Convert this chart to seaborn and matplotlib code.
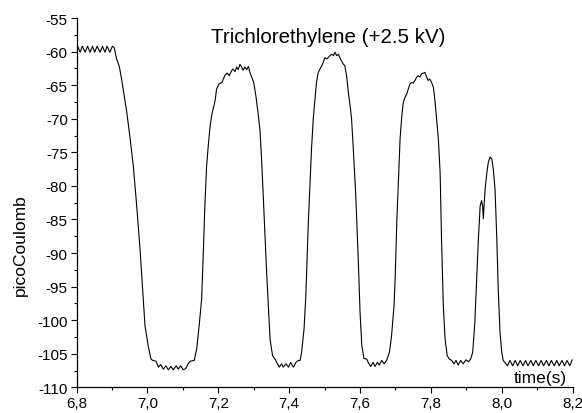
import matplotlib
matplotlib.use("Agg")
import matplotlib.pyplot as plt
import seaborn as sns
import pandas as pd
from matplotlib.ticker import AutoMinorLocator, FixedLocator

# ---- data ----
t_plateau1 = [6.800, 6.803, 6.810, 6.816, 6.824, 6.831, 6.838, 6.845, 6.851, 6.858,
              6.866, 6.873, 6.880, 6.886, 6.894, 6.901, 6.906]
q_plateau1 = [-59.5, -59.2, -60.1, -59.2, -60.1, -59.2, -60.1, -59.2, -60.1, -59.2,
              -60.1, -59.2, -60.1, -59.2, -60.1, -59.2, -59.4]

t_fall1 = [6.913, 6.921, 6.927, 6.934, 6.941, 6.950, 6.960, 6.970, 6.979, 6.993, 7.002, 7.010]
q_fall1 = [-61.1, -62.3, -64.1, -66.5, -68.8, -72.5, -77.0, -83.2, -89.4, -100.8, -103.8, -105.8]

t_bottom1 = [7.015, 7.024, 7.031, 7.037, 7.045, 7.052, 7.059, 7.066, 7.073, 7.081,
             7.087, 7.094, 7.101, 7.108, 7.116, 7.122, 7.132]
q_bottom1 = [-106.0, -106.1, -107.0, -106.6, -107.3, -106.8, -107.4, -106.9, -107.4, -106.8,
             -107.3, -106.8, -107.4, -107.2, -106.4, -106.1, -106.0]

t_peak2 = [7.139, 7.146, 7.153, 7.158, 7.162, 7.167, 7.172, 7.177, 7.182, 7.186,
           7.191, 7.195, 7.202, 7.210, 7.214, 7.219, 7.225, 7.231, 7.238, 7.242,
           7.247, 7.252, 7.256, 7.261, 7.266, 7.270, 7.275, 7.280, 7.285, 7.289,
           7.294, 7.300, 7.306, 7.313, 7.318, 7.322, 7.326, 7.336, 7.346, 7.353, 7.360]
q_peak2 = [-104.3, -100.8, -96.8, -89.4, -83.0, -77.0, -73.8, -71.0, -69.3, -68.4,
           -67.3, -65.6, -64.8, -64.6, -64.1, -63.5, -63.2, -63.6, -62.8, -62.6,
           -63.0, -62.3, -62.7, -61.9, -62.3, -62.8, -62.3, -62.7, -62.2, -63.1,
           -63.8, -64.6, -66.6, -69.5, -72.0, -76.0, -80.5, -92.5, -102.8, -105.3, -105.8]

t_bottom2 = [7.365, 7.372, 7.379, 7.383, 7.391, 7.398, 7.404, 7.412, 7.419, 7.426, 7.431]
q_bottom2 = [-106.3, -107.0, -106.5, -107.0, -106.5, -107.0, -106.3, -107.0, -106.3, -106.0, -106.0]

t_peak3 = [7.435, 7.442, 7.447, 7.454, 7.463, 7.468, 7.473, 7.477, 7.482, 7.487,
           7.492, 7.496, 7.501, 7.506, 7.510, 7.515, 7.520, 7.525, 7.529, 7.534,
           7.539, 7.543, 7.548, 7.553, 7.557, 7.562, 7.567, 7.572, 7.576, 7.581,
           7.588, 7.595, 7.600, 7.605, 7.611]
q_peak3 = [-104.8, -101.3, -96.4, -85.5, -74.5, -70.0, -67.1, -64.6, -63.1, -62.6,
           -62.1, -61.6, -60.9, -61.1, -60.9, -60.6, -60.4, -60.6, -60.1, -60.6,
           -60.4, -60.9, -61.4, -61.9, -62.1, -63.6, -66.1, -68.1, -70.0, -74.5,
           -81.5, -91.0, -98.8, -103.8, -105.7]

t_bottom3 = [7.619, 7.623, 7.630, 7.637, 7.642, 7.649, 7.654, 7.661, 7.668, 7.675, 7.683]
q_bottom3 = [-105.8, -106.3, -106.9, -106.3, -106.9, -106.3, -106.7, -106.0, -106.5, -106.0, -104.8]

t_peak4 = [7.689, 7.696, 7.699, 7.704, 7.713, 7.718, 7.722, 7.727, 7.732, 7.736,
           7.741, 7.746, 7.750, 7.755, 7.760, 7.764, 7.769, 7.774, 7.779, 7.783,
           7.788, 7.792, 7.797, 7.802, 7.807, 7.812, 7.816, 7.821, 7.826, 7.830,
           7.835, 7.840, 7.846, 7.852]
q_peak4 = [-102.3, -97.8, -93.9, -85.0, -73.0, -69.5, -67.6, -66.8, -66.3, -65.6,
           -64.8, -64.6, -64.7, -64.3, -63.8, -63.6, -63.8, -63.3, -63.2, -63.1,
           -63.8, -64.3, -64.1, -64.6, -65.3, -67.6, -70.0, -73.0, -78.0, -87.9,
           -97.8, -102.8, -105.3, -105.8]

t_bottom4 = [7.859, 7.865, 7.871, 7.877, 7.884, 7.891, 7.899, 7.906, 7.912]
q_bottom4 = [-106.0, -106.5, -106.0, -106.7, -106.0, -106.5, -105.9, -106.2, -105.8]

t_peak5 = [7.918, 7.924, 7.929, 7.934, 7.939, 7.943, 7.946, 7.948, 7.950, 7.953,
           7.958, 7.962, 7.967, 7.972, 7.976, 7.981, 7.986, 7.990, 7.995, 8.000, 8.004]
q_peak5 = [-104.8, -100.3, -93.9, -87.9, -83.0, -82.2, -83.0, -84.9, -83.0, -80.5,
           -78.0, -76.5, -75.7, -76.0, -77.5, -80.5, -87.9, -95.4, -101.8, -104.8, -106.0]

t_plateau2 = [8.009, 8.016, 8.023, 8.031, 8.038, 8.045, 8.052, 8.060, 8.067, 8.074,
              8.082, 8.089, 8.096, 8.104, 8.111, 8.118, 8.126, 8.133, 8.140, 8.148,
              8.155, 8.162, 8.170, 8.177, 8.184, 8.192, 8.199]
q_plateau2 = [-106.3, -106.8, -106.0, -106.8, -106.0, -106.8, -106.0, -106.8, -106.0, -106.8,
              -106.0, -106.8, -106.0, -106.8, -106.0, -106.8, -106.0, -106.8, -106.0, -106.8,
              -106.0, -106.8, -106.0, -106.8, -106.0, -106.8, -105.9]

x_ticks = [6.8, 7.0, 7.2, 7.4, 7.6, 7.8, 8.0, 8.2]
x_tick_labels = ["6,8", "7,0", "7,2", "7,4", "7,6", "7,8", "8,0", "8,2"]
y_ticks = [-110, -105, -100, -95, -90, -85, -80, -75, -70, -65, -60, -55]
y_tick_labels = ["-110", "-105", "-100", "-95", "-90", "-85", "-80", "-75", "-70", "-65", "-60", "-55"]

title_text = "Trichlorethylene (+2.5 kV)"
x_label = "time(s)"
y_label = "picoCoulomb"

# ---- assemble ----
time = (t_plateau1 + t_fall1 + t_bottom1 + t_peak2 + t_bottom2 + t_peak3 + t_bottom3
        + t_peak4 + t_bottom4 + t_peak5 + t_plateau2)
charge = (q_plateau1 + q_fall1 + q_bottom1 + q_peak2 + q_bottom2 + q_peak3 + q_bottom3
          + q_peak4 + q_bottom4 + q_peak5 + q_plateau2)
df = pd.DataFrame({"time": time, "charge": charge})

sns.set_style("ticks")
plt.rcParams["font.family"] = ["Liberation Sans", "DejaVu Sans"]

fig = plt.figure(figsize=(5.82, 4.14), dpi=100)
ax = fig.add_axes([0.1316, 0.0621, 0.8523, 0.892])

sns.lineplot(data=df, x="time", y="charge", ax=ax, color="black", linewidth=0.8,
             estimator=None, sort=False)

ax.set_xlim(6.8, 8.2)
ax.set_ylim(-110, -55)
ax.xaxis.set_major_locator(FixedLocator(x_ticks))
ax.set_xticklabels(x_tick_labels)
ax.yaxis.set_major_locator(FixedLocator(y_ticks))
ax.set_yticklabels(y_tick_labels)
ax.xaxis.set_minor_locator(AutoMinorLocator(2))
ax.yaxis.set_minor_locator(AutoMinorLocator(2))

ax.tick_params(which="major", direction="out", length=4.3, width=0.8, color="black",
               labelsize=11, labelcolor="black", pad=2)
ax.tick_params(which="minor", direction="out", length=2.5, width=0.8, color="black")

for s in ["top", "right"]:
    ax.spines[s].set_visible(False)
for s in ["left", "bottom"]:
    ax.spines[s].set_color("black")
    ax.spines[s].set_linewidth(0.9)

ax.set_xlabel(x_label, fontsize=12.5, ha="right", va="bottom", color="black")
ax.xaxis.set_label_coords(0.989, 0.006)
ax.set_ylabel(y_label, fontsize=12.5, color="black")
ax.yaxis.set_label_coords(-0.098, 0.388)

ax.text(0.508, 0.934, title_text, transform=ax.transAxes, ha="center", va="baseline",
        fontsize=14.8, color="black")

fig.savefig("out.png", dpi=100)
